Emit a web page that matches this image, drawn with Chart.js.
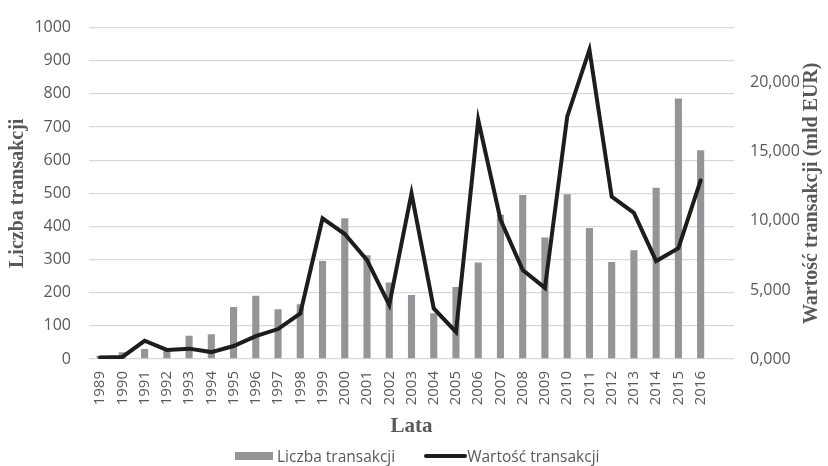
<!DOCTYPE html>
<html>
<head>
<meta charset="utf-8">
<title>Liczba i wartość transakcji 1989-2016</title>
<script src="https://cdn.jsdelivr.net/npm/chart.js"></script>
<style>
    body {
        margin: 0;
        background: #fff;
    }

    .wrap {
        position: relative;
        width: 828px;
        height: 466px;
    }

    .legend {
        position: absolute;
        left: 235px;
        top: 446px;
        height: 20px;
        display: flex;
        align-items: center;
        font-family: 'Open Sans', sans-serif;
        font-size: 15.5px;
        color: #595959;
        white-space: nowrap;
    }

    .legend .box {
        width: 38px;
        height: 8px;
        background: #939598;
        margin-right: 4px;
    }

    .legend .line {
        width: 43px;
        height: 4px;
        background: #1d1d1b;
        border-radius: 2px;
        margin-left: 29px;
    }
</style>
</head>
<body>
<div class="wrap">
    <canvas id="chart"></canvas>
    <div class="legend">
        <span class="box"></span><span>Liczba transakcji</span>
        <span class="line"></span><span>Wartość transakcji</span>
    </div>
</div>

<script>
    // dane z wykresu
    const years = ['1989', '1990', '1991', '1992', '1993', '1994', '1995', '1996', '1997', '1998',
        '1999', '2000', '2001', '2002', '2003', '2004', '2005', '2006', '2007', '2008',
        '2009', '2010', '2011', '2012', '2013', '2014', '2015', '2016'];
    // liczba transakcji (lewa oś)
    const liczba = [10, 20, 30, 28, 70, 75, 157, 191, 150, 165,
        296, 425, 313, 231, 193, 138, 217, 291, 435, 495,
        367, 497, 395, 293, 328, 517, 786, 630];
    // wartość transakcji w mld EUR (prawa oś)
    const wartosc = [0.1, 0.15, 1.32, 0.66, 0.75, 0.5, 0.94, 1.65, 2.17, 3.3,
        10.18, 9.05, 7.16, 3.92, 12.0, 3.66, 1.96, 17.31, 10.1, 6.45,
        5.15, 17.55, 22.4, 11.76, 10.58, 7.09, 8.03, 12.94];
    const leftTicks = { min: 0, max: 1000, step: 100 };
    const rightTicks = { min: 0, max: 24, step: 5 };

    // pusta kategoria na końcu, jak w oryginale (siatka sięga dalej niż 2016)
    const xLabels = years.concat(['']);

    const textGray = '#595959';
    const sansFont = 'Open Sans';
    const serifFont = 'Liberation Serif';

    // tytuł prawej osi czytany od dołu do góry
    const rightTitle = {
        id: 'rightTitle',
        afterDraw(chart) {
            const { ctx, chartArea } = chart;
            ctx.save();
            ctx.translate(812, (chartArea.top + chartArea.bottom) / 2);
            ctx.rotate(-Math.PI / 2);
            ctx.font = 'bold 20px "' + serifFont + '"';
            ctx.fillStyle = textGray;
            ctx.textAlign = 'center';
            ctx.textBaseline = 'middle';
            ctx.fillText('Wartość transakcji (mld EUR)', 0, 0);
            ctx.restore();
        }
    };

    new Chart(document.getElementById('chart'), {
        type: 'bar',
        data: {
            labels: xLabels,
            datasets: [
                {
                    type: 'bar',
                    label: 'Liczba transakcji',
                    data: liczba,
                    yAxisID: 'y',
                    backgroundColor: '#939598',
                    borderWidth: 0,
                    barPercentage: 0.32,
                    categoryPercentage: 1,
                    order: 1
                },
                {
                    type: 'line',
                    label: 'Wartość transakcji',
                    data: wartosc,
                    yAxisID: 'y1',
                    borderColor: '#1d1d1b',
                    borderWidth: 4,
                    pointRadius: 0,
                    tension: 0,
                    borderCapStyle: 'round',
                    order: 0
                }
            ]
        },
        options: {
            responsive: true,
            maintainAspectRatio: false,
            animation: false,
            layout: { padding: { top: 21, left: 0, right: 0, bottom: 0 } },
            plugins: {
                legend: { display: false },
                tooltip: { enabled: false }
            },
            scales: {
                x: {
                    grid: { display: false, drawTicks: false },
                    border: { display: false },
                    ticks: {
                        color: textGray,
                        font: { family: sansFont, size: 15 },
                        minRotation: 90,
                        maxRotation: 90,
                        autoSkip: false,
                        padding: 12
                    },
                    title: {
                        display: true,
                        text: 'Lata',
                        color: textGray,
                        font: { family: serifFont, size: 21, weight: 'bold', lineHeight: 1.2 },
                        padding: { top: 0, bottom: 27 }
                    },
                    afterFit: s => { s.height = 107; }
                },
                y: {
                    position: 'left',
                    min: leftTicks.min,
                    max: leftTicks.max,
                    grid: { color: '#d9d9d9', lineWidth: 1.3, drawTicks: false },
                    border: { display: false },
                    ticks: {
                        stepSize: leftTicks.step,
                        color: textGray,
                        font: { family: sansFont, size: 16 },
                        padding: 18,
                        callback: v => String(v)
                    },
                    title: {
                        display: true,
                        text: 'Liczba transakcji',
                        color: textGray,
                        font: { family: serifFont, size: 20, weight: 'bold', lineHeight: 1.2 },
                        padding: { top: 6, bottom: 0 }
                    },
                    afterFit: s => { s.width = 89; }
                },
                y1: {
                    position: 'right',
                    min: rightTicks.min,
                    max: rightTicks.max,
                    grid: { display: false, drawTicks: false },
                    border: { display: false },
                    ticks: {
                        stepSize: rightTicks.step,
                        includeBounds: false,
                        color: textGray,
                        font: { family: sansFont, size: 16 },
                        padding: 16,
                        callback: v => v.toFixed(3).replace('.', ',')
                    },
                    afterFit: s => { s.width = 94; }
                }
            }
        },
        plugins: [rightTitle]
    });
</script>
</body>
</html>
